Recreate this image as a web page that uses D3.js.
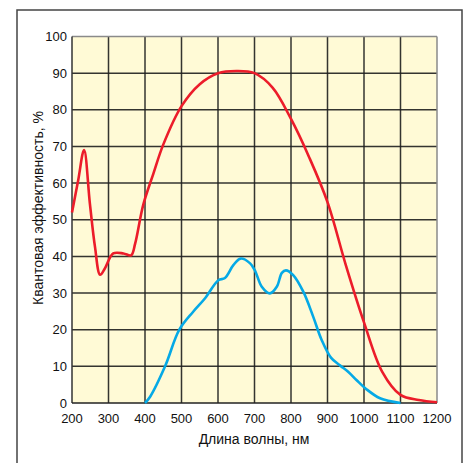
<!DOCTYPE html>
<html><head><meta charset="utf-8">
<script src="https://cdn.jsdelivr.net/npm/d3@7"></script>
<style>body{margin:0;background:#fff}svg{display:block}</style>
</head><body><svg id="c" width="467" height="463"></svg>
<script>
const xTicks = [200,300,400,500,600,700,800,900,1000,1100,1200];
const yTicks = [0,10,20,30,40,50,60,70,80,90,100];
const xTitle = "Длина волны, нм";
const yTitle = "Квантовая эффективность, %";
const redWl  = [200,217,233,249,263,277,290,313,341,362,373,395,423,450,500,550,600,650,700,750,800,850,900,950,1000,1050,1100,1150,1200];
const redQE  = [52,60.8,69,54.4,42.6,35,36.7,40.8,40.8,40.3,43.5,54,62.6,70.5,81,87,90,90.6,90,86,77.5,67,54.8,37.7,22,8.5,2.2,0.8,0.2];
const blueWl = [400,414,455,494,532,564,601,619,642,662,688,701,720,742,761,775,786,806,834,861,884,910,935,958,980,1005,1044,1100];
const blueQE = [0,1.7,10,20,24.9,28.5,33.5,34.1,37.6,39.4,38.1,36.2,31.7,29.9,31.7,35.5,36.2,34.9,30.3,23.5,17.2,12.3,10.2,8.4,6.2,3.9,1.3,0];

const svg = d3.select("#c");
svg.append("rect").attr("x",17).attr("y",10).attr("width",445).attr("height",470)
  .attr("fill","none").attr("stroke","#444").attr("stroke-width",1.5);

const L=72,R=437,T=36.5,B=403;
const x = d3.scaleLinear().domain([200,1200]).range([L,R]);
const y = d3.scaleLinear().domain([0,100]).range([B,T]);

svg.append("rect").attr("x",L).attr("y",T).attr("width",R-L).attr("height",B-T).attr("fill","#fffad6");

const g = svg.append("g");
g.selectAll(".vx").data(xTicks.slice(1,-1)).join("line")
  .attr("x1",d=>x(d)).attr("x2",d=>x(d)).attr("y1",T).attr("y2",B)
  .attr("stroke","#1e1e1e").attr("stroke-width",1.5).attr("stroke-opacity",0.9);
g.selectAll(".hy").data(yTicks.slice(1,-1)).join("line")
  .attr("x1",L).attr("x2",R).attr("y1",d=>y(d)).attr("y2",d=>y(d))
  .attr("stroke","#1e1e1e").attr("stroke-width",1.5).attr("stroke-opacity",0.9);
g.append("line").attr("x1",L).attr("x2",R).attr("y1",T).attr("y2",T).attr("stroke","#8a8a8a").attr("stroke-width",1.5);
g.append("line").attr("x1",R).attr("x2",R).attr("y1",T).attr("y2",B).attr("stroke","#8a8a8a").attr("stroke-width",1.5);
g.append("line").attr("x1",L).attr("x2",L).attr("y1",T).attr("y2",B).attr("stroke","#333").attr("stroke-width",1.5);
g.append("line").attr("x1",L).attr("x2",R).attr("y1",B).attr("y2",B).attr("stroke","#222").attr("stroke-width",1.5);

const font = "'Liberation Sans', Arial, sans-serif";
svg.selectAll(".yl").data(yTicks).join("text")
  .attr("x",67).attr("y",d=>y(d)+4.5).attr("text-anchor","end")
  .attr("font-family",font).attr("font-size",13).attr("fill","#111").text(d=>d);
svg.selectAll(".xl").data(xTicks).join("text")
  .attr("x",d=>x(d)).attr("y",423).attr("text-anchor","middle")
  .attr("font-family",font).attr("font-size",13).attr("fill","#111").text(d=>d);

svg.append("text").attr("x",254).attr("y",444).attr("text-anchor","middle")
  .attr("font-family",font).attr("font-size",14).attr("fill","#111").text(xTitle);
svg.append("text").attr("transform","translate(43,208) rotate(-90)").attr("text-anchor","middle")
  .attr("font-family",font).attr("font-size",14).attr("fill","#111").text(yTitle);

const line = d3.line().x(d=>x(d[0])).y(d=>y(d[1])).curve(d3.curveCatmullRom.alpha(0.5));
svg.append("path").attr("d",line(redWl.map((w,i)=>[w,redQE[i]])))
  .attr("fill","none").attr("stroke","#ec1c2a").attr("stroke-width",2.6).attr("stroke-linejoin","round");
svg.append("path").attr("d",line(blueWl.map((w,i)=>[w,blueQE[i]])))
  .attr("fill","none").attr("stroke","#05a9e6").attr("stroke-width",2.6).attr("stroke-linejoin","round");
</script></body></html>
